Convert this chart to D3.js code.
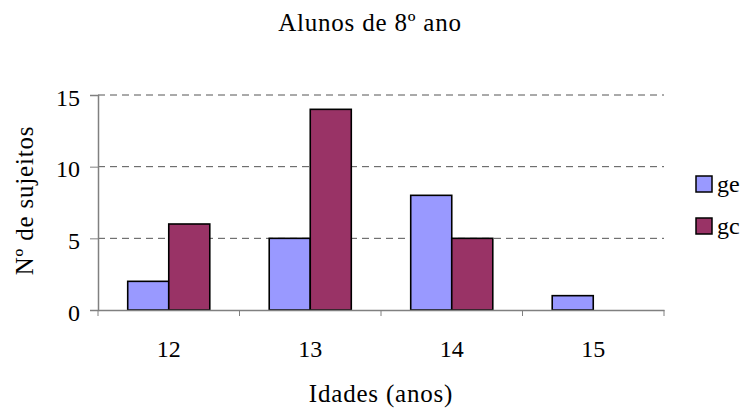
<!DOCTYPE html>
<html lang="pt">
<head>
  <meta charset="UTF-8">
  <title>Alunos de 8º ano</title>
  <style>
    body { margin: 0; background: #fff; }
  </style>
</head>
<body>
<script src="https://d3js.org/d3.v7.min.js"></script>
<div id="d3_chart"></div>
<script>
  // DATA =====================================================================
  const idades = ["12", "13", "14", "15"];
  const ge = [2, 5, 8, 1];
  const gc = [6, 14, 5, 0];
  const series = ["ge", "gc"];
  const yTicks = [0, 5, 10, 15];
  const colors = { ge: "#9999ff", gc: "#993366" };

  const FONT = "'Times New Roman', Times, 'Liberation Serif', serif";

  // PLOT AREA ================================================================
  const W = 745, H = 410;
  const margin = { top: 95, right: 81, bottom: 100, left: 98 },
      width = W - margin.left - margin.right,
      height = H - margin.top - margin.bottom;

  const svg = d3.select("#d3_chart")
    .append("svg")
      .attr("width", W)
      .attr("height", H)
      .style("font-family", FONT);

  const g = svg.append("g")
      .attr("transform", `translate(${margin.left},${margin.top})`);

  // SCALES ===================================================================
  const x = d3.scaleBand().domain(idades).range([0, width]).paddingInner(0).paddingOuter(0);
  const x1 = d3.scaleBand().domain(series).range([x.bandwidth() * 0.21, x.bandwidth() * 0.79]);
  const y = d3.scaleLinear().domain([0, 15]).range([height, 0]);

  // gridlines
  g.selectAll(".grid")
    .data(yTicks.filter(d => d > 0))
    .join("line")
      .attr("x1", 0).attr("x2", width)
      .attr("y1", d => y(d)).attr("y2", d => y(d))
      .attr("stroke", "#555")
      .attr("stroke-width", 1)
      .attr("stroke-dasharray", "7,5");

  // BARS =====================================================================
  const rows = idades.map((k, i) => ({ idade: k, ge: ge[i], gc: gc[i] }));
  g.selectAll(".grp")
    .data(rows)
    .join("g")
      .attr("transform", d => `translate(${x(d.idade)},0)`)
    .selectAll("rect")
    .data(d => series.map(s => ({ s, v: d[s] })).filter(e => e.v > 0))
    .join("rect")
      .attr("x", d => x1(d.s))
      .attr("y", d => y(d.v))
      .attr("width", x1.bandwidth())
      .attr("height", d => y(0) - y(d.v))
      .attr("fill", d => colors[d.s])
      .attr("stroke", "#000")
      .attr("stroke-width", 1.6);

  // AXES =====================================================================
  const yAxis = g.append("g")
    .call(d3.axisLeft(y).tickValues(yTicks).tickSize(8).tickPadding(10));
  yAxis.selectAll("text").attr("dy", "0.42em").style("font-size", "24px");

  const xAxis = g.append("g")
    .attr("transform", `translate(0,${height})`)
    .call(d3.axisBottom(x).tickSize(0).tickPadding(30));
  xAxis.selectAll("text").style("font-size", "24px");
  // category boundary ticks
  xAxis.selectAll(".bound")
    .data(d3.range(idades.length + 1))
    .join("line")
      .attr("x1", i => i * x.bandwidth()).attr("x2", i => i * x.bandwidth())
      .attr("y1", 0).attr("y2", 6)
      .attr("stroke", "#808080");

  [yAxis, xAxis].forEach(a => {
    a.attr("font-family", null);
    a.select(".domain").attr("stroke", "#808080").attr("stroke-width", 1.5);
    a.selectAll(".tick line").attr("stroke", "#808080");
    a.selectAll("text").attr("fill", "#000").style("font-family", FONT);
  });

  // TITLES ===================================================================
  svg.append("text")
    .attr("x", 370).attr("y", 31)
    .attr("text-anchor", "middle")
    .style("font-size", "25px")
    .style("letter-spacing", "0.8px")
    .text("Alunos de 8º ano");

  svg.append("text")
    .attr("x", margin.left + width / 2).attr("y", 402)
    .attr("text-anchor", "middle")
    .style("font-size", "25px")
    .style("letter-spacing", "0.8px")
    .text("Idades (anos)");

  svg.append("text")
    .attr("transform", `translate(33,${margin.top + height / 2 - 2}) rotate(-90)`)
    .attr("text-anchor", "middle")
    .style("font-size", "25px")
    .style("letter-spacing", "0.8px")
    .text("Nº de sujeitos");

  // LEGEND ===================================================================
  const legend = svg.append("g").attr("transform", "translate(696,176)");
  const li = legend.selectAll("g")
    .data(series)
    .join("g")
      .attr("transform", (d, i) => `translate(0,${i * 42})`);
  li.append("rect")
    .attr("width", 16).attr("height", 16)
    .attr("fill", d => colors[d])
    .attr("stroke", "#000").attr("stroke-width", 1.5);
  li.append("text")
    .attr("x", 21).attr("y", 16)
    .style("font-size", "24px")
    .text(d => d);
</script>
</body>
</html>
